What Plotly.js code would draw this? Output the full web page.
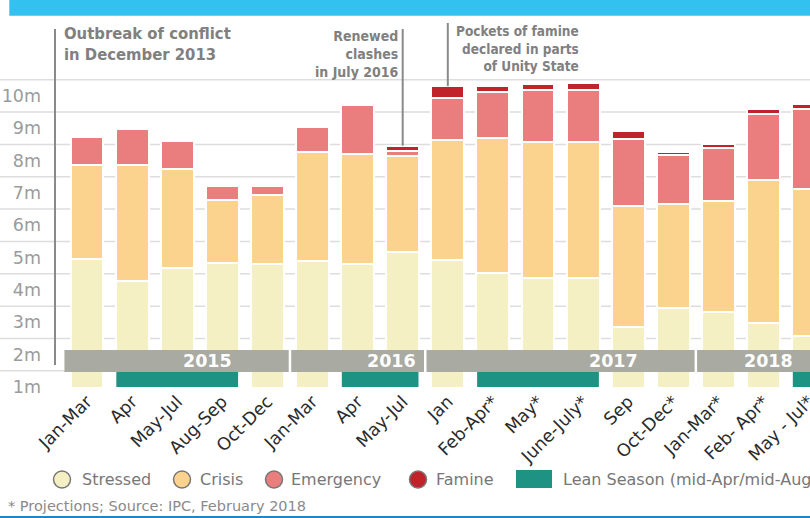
<!DOCTYPE html>
<html>
<head>
<meta charset="utf-8">
<script src="https://cdn.plot.ly/plotly-3.0.1.min.js"></script>
<style>html,body{margin:0;padding:0;background:#fff;}#chart{width:810px;height:518px;}</style>
</head>
<body>
<div id="chart"></div>
<script>
// ---- data (millions of people) ----
const periods = ['Jan-Mar','Apr','May-Jul','Aug-Sep','Oct-Dec','Jan-Mar','Apr','May-Jul','Jan','Feb-Apr*','May*','June-July*','Sep','Oct-Dec*','Jan-Mar*','Feb- Apr*','May - Jul*'];
const years = [2015,2015,2015,2015,2015,2016,2016,2016,2017,2017,2017,2017,2017,2017,2018,2018,2018];
const stressed  = [4.95,4.27,4.67,4.83,4.81,4.91,4.80,5.18,4.93,4.53,4.38,4.38,2.86,3.44,3.33,2.99,2.59];
const crisis    = [2.91,3.58,3.08,1.95,2.13,3.36,3.41,2.96,3.72,4.18,4.19,4.19,3.74,3.23,3.43,4.42,4.53];
const emergency = [0.88,1.14,0.86,0.44,0.26,0.78,1.50,0.17,1.27,1.42,1.62,1.60,2.08,1.50,1.63,2.04,2.48];
const famine    = [0,0,0,0,0,0,0,0.15,0.38,0.19,0.19,0.24,0.22,0.11,0.13,0.15,0.16];
const leanSeason = [0,1,1,1,0,0,1,1,0,1,1,1,0,0,0,0,1];
const seriesNames = ['Stressed','Crisis','Emergency','Famine'];
const leanLabel = 'Lean Season (mid-Apr/mid-Aug)';
const yTickVals = [1,2,3,4,5,6,7,8,9,10];
const yTickText = ['1m','2m','3m','4m','5m','6m','7m','8m','9m','10m'];
const events = [
  {idx: null, lines: ['Outbreak of conflict','in December 2013']},
  {idx: 7, lines: ['Renewed','clashes','in July 2016']},
  {idx: 8, lines: ['Pockets of famine','declared in parts','of Unity State']}
];
const footnote = '* Projections; Source: IPC, February 2018';

// ---- styling / layout helpers ----
const colors = ['#F4F0C4','#FBD38E','#EA7E7E','#C0232A'];
const teal = '#1E9384';
const L = 42, T = 70, PW = 768, PH = 317;
const px2x = p => (p - L) / PW;
const py2y = p => (T + PH - p) / PH;
const yMin = 1, yMax = 10.8;
const v2y = v => (v - yMin) / (yMax - yMin);
const barW = 0.73;
const idx = periods.map((_, i) => i);
const condBold = 'DejaVu Sans Condensed, DejaVu Sans';

const traces = [stressed, crisis, emergency, famine].map((vals, k) => ({
  type: 'bar', x: idx, y: vals, name: seriesNames[k], width: barW,
  marker: {color: colors[k], line: {color: '#ffffff', width: 2}},
  showlegend: false, hoverinfo: 'skip'
}));

const shapes = [];
const annotations = [];

// header bar and bottom rule
shapes.push({type:'rect', xref:'paper', yref:'paper', x0:px2x(9.3), x1:px2x(812), y0:py2y(15.7), y1:py2y(-2), fillcolor:'#33C2EF', line:{width:0}, layer:'above'});
shapes.push({type:'rect', xref:'paper', yref:'paper', x0:px2x(-2), x1:px2x(812), y0:py2y(518.5), y1:py2y(516), fillcolor:'#1B87C9', line:{width:0}, layer:'above'});

// gridlines (half-way between labels, full width)
for (let v = 1.5; v <= 10.6; v += 1) {
  shapes.push({type:'line', xref:'paper', yref:'paper', x0:px2x(0), x1:1, y0:v2y(v), y1:v2y(v), line:{color:'#dddddd', width:1.5}, layer:'below'});
}

// year band
const bandLo = 1 + 15/32.35, bandHi = 1 + 37/32.35;
shapes.push({type:'rect', xref:'x', yref:'y', x0:-0.5, x1:16.6, y0:bandLo, y1:bandHi, fillcolor:'#A9AAA1', line:{width:0}, layer:'above'});
const yearList = [...new Set(years)];
yearList.forEach((yr, k) => {
  const first = years.indexOf(yr);
  if (k > 0) {
    shapes.push({type:'line', xref:'x', yref:'y', x0:first-0.5, x1:first-0.5, y0:bandLo, y1:bandHi, line:{color:'#ffffff', width:2.5}, layer:'above'});
  }
});
const yearLabelPx = [207, 391, 613, 768];
yearList.forEach((yr, k) => {
  annotations.push({xref:'paper', yref:'y', x:px2x(yearLabelPx[k]), y:(bandLo+bandHi)/2, text:String(yr), showarrow:false,
    xanchor:'center', yanchor:'middle', font:{family:'DejaVu Sans', size:17.5, color:'#ffffff', weight:'bold'}});
});

// lean season markers
let s = -1;
leanSeason.concat([0]).forEach((f, i) => {
  if (f && s < 0) s = i;
  if (!f && s >= 0) {
    shapes.push({type:'rect', xref:'x', yref:'y', x0:s-0.35, x1:(i-1)+0.35, y0:yMin, y1:bandLo, fillcolor:teal, line:{width:0}, layer:'above'});
    s = -1;
  }
});

// event markers
const lineCol = '#8a8a8a', txtCol = '#808080';
shapes.push({type:'line', xref:'paper', yref:'paper', x0:px2x(55), x1:px2x(55), y0:py2y(29), y1:py2y(365), line:{color:lineCol, width:2}});
annotations.push({xref:'paper', yref:'paper', x:px2x(62), y:py2y(44), text:events[0].lines.join('<br>'), showarrow:false,
  xanchor:'left', yanchor:'middle', align:'left', font:{family:condBold, size:16.5, color:txtCol, weight:'bold'}});
const tot = i => stressed[i] + crisis[i] + emergency[i] + famine[i];
shapes.push({type:'line', xref:'x', yref:'paper', x0:events[1].idx, x1:events[1].idx, y0:py2y(29), y1:v2y(tot(events[1].idx)), line:{color:lineCol, width:2}});
annotations.push({xref:'x', yref:'paper', x:events[1].idx, xshift:-2, y:py2y(54), text:events[1].lines.join('<br>'), showarrow:false,
  xanchor:'right', yanchor:'middle', align:'right', font:{family:condBold, size:14, color:txtCol, weight:'bold'}});
shapes.push({type:'line', xref:'x', yref:'paper', x0:events[2].idx, x1:events[2].idx, y0:py2y(23), y1:v2y(tot(events[2].idx)), line:{color:lineCol, width:2}});
annotations.push({xref:'x', yref:'paper', x:events[2].idx, xshift:6, y:py2y(48), text:events[2].lines.join('<br>'), showarrow:false,
  xanchor:'left', yanchor:'middle', align:'right', font:{family:condBold, size:13.5, color:txtCol, weight:'bold'}});

// custom legend
const legY = 479.5, r = 8.5;
const circX = [62, 182, 274, 418];
const textX = [80, 198, 289, 434];
seriesNames.forEach((nm, k) => {
  shapes.push({type:'circle', xref:'paper', yref:'paper', x0:px2x(circX[k]-r), x1:px2x(circX[k]+r), y0:py2y(legY+r), y1:py2y(legY-r),
    fillcolor:colors[k], line:{color:'#777777', width:1.5}});
  annotations.push({xref:'paper', yref:'paper', x:px2x(textX[k]), y:py2y(legY), text:nm, showarrow:false, xanchor:'left', yanchor:'middle',
    font:{family:'DejaVu Sans', size:16, color:'#777777'}});
});
shapes.push({type:'rect', xref:'paper', yref:'paper', x0:px2x(516), x1:px2x(552), y0:py2y(488), y1:py2y(470), fillcolor:teal, line:{width:0}});
annotations.push({xref:'paper', yref:'paper', x:px2x(561), y:py2y(legY), text:leanLabel, showarrow:false, xanchor:'left', yanchor:'middle',
  font:{family:'DejaVu Sans', size:16, color:'#777777'}});

annotations.push({xref:'paper', yref:'paper', x:px2x(6), y:py2y(506), text:footnote, showarrow:false, xanchor:'left', yanchor:'middle',
  font:{family:'DejaVu Sans', size:14.5, color:'#8a8a8a'}});

const layout = {
  width: 810, height: 518,
  margin: {l: L, r: 0, t: T, b: 518 - T - PH, pad: 0},
  paper_bgcolor: '#ffffff', plot_bgcolor: 'rgba(0,0,0,0)',
  barmode: 'stack', bargap: 0,
  showlegend: false,
  xaxis: {
    range: [(L - 87) / 45.1 , (810 - 87) / 45.1],
    tickmode: 'array', tickvals: idx, ticktext: periods, ticklabeloverflow: 'allow',
    tickangle: -45, showgrid: false, zeroline: false, showline: false, ticks: '',
    tickfont: {family: 'DejaVu Sans', size: 17.5, color: '#2a2a2a'}, fixedrange: true
  },
  yaxis: {
    range: [yMin, yMax], tickmode: 'array', tickvals: yTickVals, ticktext: yTickText,
    showgrid: false, zeroline: false, showline: false, ticks: '',
    tickfont: {family: 'DejaVu Sans', size: 17.5, color: '#9b9b9b'}, fixedrange: true
  },
  shapes: shapes,
  annotations: annotations
};

Plotly.newPlot('chart', traces, layout, {staticPlot: true, displayModeBar: false});
</script>
</body>
</html>
